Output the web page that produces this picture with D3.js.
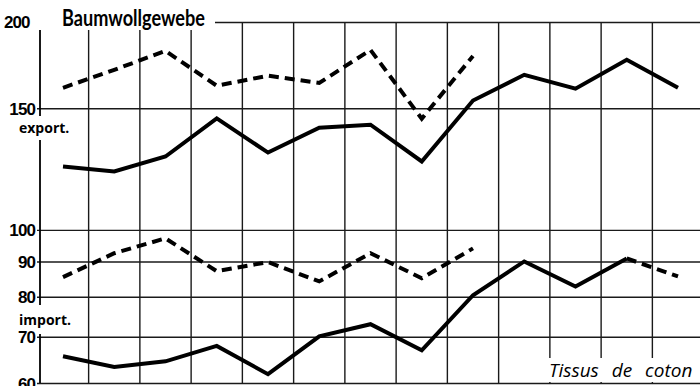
<!DOCTYPE html>
<html>
<head>
<meta charset="utf-8">
<script src="https://cdn.jsdelivr.net/npm/d3@7"></script>
<style>
  body { margin: 0; background: #fff; }
  svg { display: block; }
  text { fill: #000; }
</style>
</head>
<body>
<svg width="700" height="386"></svg>
<script>
// years (not labelled on the chart)
var years = [1950, 1951, 1952, 1953, 1954, 1955, 1956, 1957, 1958, 1959, 1960, 1961, 1962];

// export, solid line
var exportA = [123.5, 121.5, 127.7, 145, 129.4, 140.6, 142, 125.6, 153.9, 167.7, 160.1, 176.3, 160.6];
// export, dashed line
var exportB = [160.6, 170.5, 181.6, 161.7, 167.2, 163.2, 182.2, 144.9, 178.6];
// import, solid line (last segment dashed)
var importA = [65.6, 63.3, 64.5, 67.9, 61.8, 70.1, 73.0, 66.9, 80.4, 90.0, 82.8, 90.9, 85.6];
// import, dashed line
var importB = [85.4, 92.5, 97.2, 87.1, 89.8, 84.2, 92.5, 85.1, 94.0];

var tickVals = [200, 150, 100, 90, 80, 70, 60];

var svg = d3.select("svg"),
    plotLeft = 40, plotRight = 700, plotTop = 22, plotBottom = 383;

var x = d3.scalePoint().domain(years).range([63, 678]);
var y = d3.scaleLog().domain([60, 200]).range([plotBottom, plotTop]);

var step = x.step();

// vertical grid lines between the years
var vlines = years.slice(1).map(function(d) { return x(d) - step / 2; });
svg.append("g").selectAll("line")
    .data(vlines)
  .enter().append("line")
    .attr("x1", function(d) { return d; })
    .attr("x2", function(d) { return d; })
    .attr("y1", plotTop)
    .attr("y2", plotBottom)
    .attr("stroke", "#1a1a1a")
    .attr("stroke-width", 1.4);

// horizontal grid + tick labels
var yAxis = svg.append("g")
    .attr("transform", "translate(" + plotLeft + ",0)")
    .call(d3.axisLeft(y).tickValues(tickVals).tickSize(-(plotRight - plotLeft + 4)).tickPadding(5)
      .tickFormat(d3.format("d")));
yAxis.select(".domain").remove();
yAxis.selectAll(".tick line")
    .attr("x1", -3)
    .attr("stroke", "#1a1a1a")
    .attr("stroke-width", 1.4);
yAxis.selectAll(".tick text")
    .attr("font-family", "Liberation Sans, Arial, sans-serif")
    .attr("font-weight", "bold")
    .attr("font-size", 17)
    .attr("letter-spacing", -0.9)
    .attr("dy", "0.36em");
yAxis.selectAll(".tick").filter(function(d) { return d === 200; }).select("text").remove();

// left axis line
svg.append("line")
    .attr("x1", plotLeft).attr("x2", plotLeft)
    .attr("y1", plotTop + 8).attr("y2", plotBottom)
    .attr("stroke", "#000")
    .attr("stroke-width", 1.8);

// title with white backing
svg.append("rect")
    .attr("x", 0).attr("y", 0).attr("width", 215).attr("height", 30)
    .attr("fill", "#fff");
svg.append("text")
    .attr("x", 4).attr("y", 28)
    .attr("font-family", "Liberation Sans, Arial, sans-serif")
    .attr("font-weight", "bold")
    .attr("font-size", 17)
    .attr("letter-spacing", -0.9)
    .text("200");
svg.append("text")
    .attr("x", 62).attr("y", 26)
    .attr("font-family", "Lato, 'Open Sans', sans-serif")
    .attr("font-weight", "bold")
    .attr("font-size", 22)
    .attr("textLength", 143)
    .attr("lengthAdjust", "spacingAndGlyphs")
    .text("Baumwollgewebe");

// side labels, with a gap cut into the axis line
function sideLabel(txt, yb, gapTop, gapBottom) {
  svg.append("rect")
      .attr("x", plotLeft - 3).attr("y", gapTop)
      .attr("width", 6).attr("height", gapBottom - gapTop)
      .attr("fill", "#fff");
  svg.append("text")
      .attr("x", 19).attr("y", yb)
      .attr("font-family", "'Open Sans', 'DejaVu Sans', sans-serif")
      .attr("font-weight", "bold")
      .attr("font-size", 14)
      .text(txt);
}
sideLabel("export.", 133, 116, 140);
sideLabel("import.", 325, 305, 334);

// caption bottom right
svg.append("rect")
    .attr("x", 545).attr("y", 358).attr("width", 155).attr("height", 24)
    .attr("fill", "#fff");
svg.append("text")
    .attr("x", 549).attr("y", 377)
    .attr("font-family", "'Open Sans', 'DejaVu Sans', sans-serif")
    .attr("font-style", "italic")
    .attr("font-size", 19)
    .attr("word-spacing", 8)
    .text("Tissus de coton");

// series
var line = d3.line()
    .x(function(d) { return x(d.year); })
    .y(function(d) { return y(d.v); });

function pairs(vals) {
  return vals.map(function(v, i) { return {year: years[i], v: v}; });
}

function draw(data, dashed) {
  svg.append("path")
      .datum(data)
      .attr("d", line)
      .attr("fill", "none")
      .attr("stroke", "#000")
      .attr("stroke-width", 4)
      .attr("stroke-linejoin", "miter")
      .attr("stroke-dasharray", dashed ? "10,6" : null);
}

var imp = pairs(importA);
draw(pairs(exportA), false);
draw(pairs(exportB), true);
draw(imp.slice(0, 12), false);
draw(imp.slice(11), true);
draw(pairs(importB), true);
</script>
</body>
</html>
